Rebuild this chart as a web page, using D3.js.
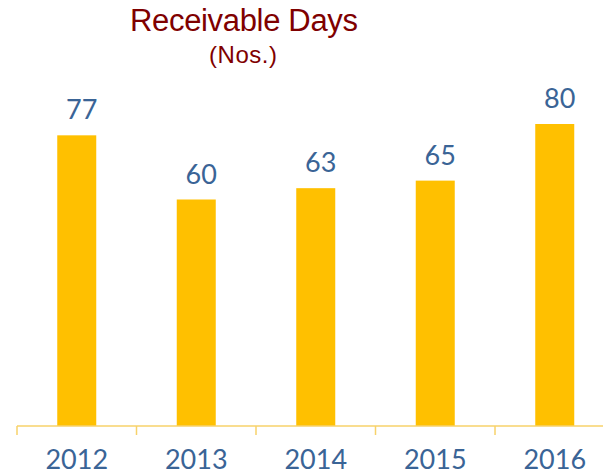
<!DOCTYPE html>
<html>
<head>
<meta charset="utf-8">
<script src="https://cdn.jsdelivr.net/npm/d3@7"></script>
<style>
  body { margin: 0; background: #fff; }
  svg { display: block; }
</style>
</head>
<body>
<div id="chart"></div>
<script>
// chart data
const years = ["2012", "2013", "2014", "2015", "2016"];
const receivableDays = [77, 60, 63, 65, 80];
const chartTitle = "Receivable Days";
const chartUnit = "(Nos.)";

const W = 603, H = 475;
const axisY = 426;

const svg = d3.select("#chart")
              .append("svg")
              .attr("width", W)
              .attr("height", H);

// band scale runs past the right edge, like the original
const x = d3.scaleBand()
            .domain(years)
            .range([17, 614.5])
            .paddingInner(0)
            .paddingOuter(0);

const y = d3.scaleLinear()
            .domain([0, 100])
            .range([axisY, axisY - 377.5]);

const barW = 39;

// titles
svg.append("text")
   .attr("x", 244)
   .attr("y", 31)
   .attr("text-anchor", "middle")
   .attr("fill", "#7f0000")
   .style("font-family", "'Liberation Sans', sans-serif")
   .style("font-size", "31px")
   .attr("textLength", 228)
   .text(chartTitle);

svg.append("text")
   .attr("x", 243)
   .attr("y", 63)
   .attr("text-anchor", "middle")
   .attr("fill", "#7f0000")
   .style("font-family", "'Liberation Sans', sans-serif")
   .style("font-size", "24px")
   .attr("textLength", 68)
   .text(chartUnit);

// bars
svg.selectAll(".bar")
   .data(years.map((yr, i) => ({ yr, v: receivableDays[i] })))
   .enter()
   .append("rect")
   .attr("class", "bar")
   .attr("x", d => x(d.yr) + x.bandwidth() / 2 - barW / 2)
   .attr("width", barW)
   .attr("y", d => y(d.v))
   .attr("height", d => y(0) - y(d.v))
   .attr("fill", "#ffc000");

// value labels
svg.selectAll(".val")
   .data(years.map((yr, i) => ({ yr, v: receivableDays[i] })))
   .enter()
   .append("text")
   .attr("class", "val")
   .attr("x", d => x(d.yr) + x.bandwidth() / 2 + 5)
   .attr("y", d => y(d.v) - 16)
   .attr("text-anchor", "middle")
   .attr("fill", "#3a6496")
   .style("font-family", "Lato, sans-serif")
   .style("font-size", "27px")
   .text(d => d.v);

// x axis
const xAxis = svg.append("g")
                 .attr("class", "x-axis")
                 .attr("transform", `translate(0,${axisY})`)
                 .call(d3.axisBottom(x).tickSize(0).tickPadding(0));

xAxis.select(".domain").remove();
xAxis.append("line")
     .attr("x1", 17).attr("x2", 614.5)
     .attr("y1", 0).attr("y2", 0)
     .attr("stroke", "#f7d26a")
     .attr("stroke-width", 1.5);

// boundary ticks between categories
const bounds = years.map(yr => x(yr)).concat([x.range()[1]]);
xAxis.selectAll(".bound")
     .data(bounds)
     .enter()
     .append("line")
     .attr("class", "bound")
     .attr("x1", d => d).attr("x2", d => d)
     .attr("y1", 0).attr("y2", 9)
     .attr("stroke", "#f7d26a")
     .attr("stroke-width", 1.5);

xAxis.selectAll(".tick text")
     .attr("y", 43)
     .attr("dy", 0)
     .attr("fill", "#3a6496")
     .style("font-family", "Lato, sans-serif")
     .style("font-size", "27px");
</script>
</body>
</html>
